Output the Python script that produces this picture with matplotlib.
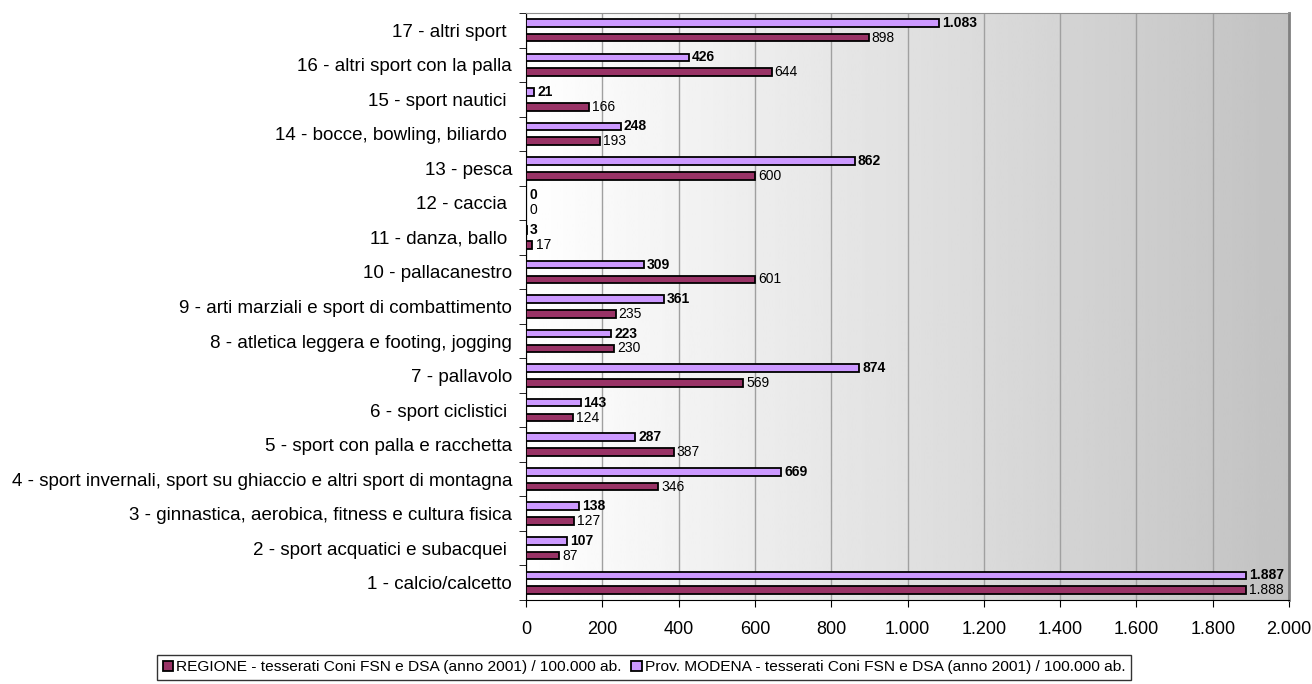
"""Tesserati Coni FSN e DSA per 100.000 ab. - Regione vs Prov. Modena."""
import matplotlib
matplotlib.use("Agg")
import matplotlib.pyplot as plt
import numpy as np
from matplotlib.ticker import FuncFormatter, FixedLocator

plt.rcParams["font.family"] = ["Liberation Sans", "DejaVu Sans"]

categories = [
    "1 - calcio/calcetto",
    "2 - sport acquatici e subacquei ",
    "3 - ginnastica, aerobica, fitness e cultura fisica",
    "4 - sport invernali, sport su ghiaccio e altri sport di montagna",
    "5 - sport con palla e racchetta",
    "6 - sport ciclistici ",
    "7 - pallavolo",
    "8 - atletica leggera e footing, jogging",
    "9 - arti marziali e sport di combattimento",
    "10 - pallacanestro",
    "11 - danza, ballo ",
    "12 - caccia ",
    "13 - pesca",
    "14 - bocce, bowling, biliardo ",
    "15 - sport nautici ",
    "16 - altri sport con la palla",
    "17 - altri sport ",
]
regione = [1888, 87, 127, 346, 387, 124, 569, 230, 235, 601, 17, 0, 600, 193, 166, 644, 898]
modena = [1887, 107, 138, 669, 287, 143, 874, 223, 361, 309, 3, 0, 862, 248, 21, 426, 1083]
x_ticks = [0, 200, 400, 600, 800, 1000, 1200, 1400, 1600, 1800, 2000]

label_reg = "REGIONE - tesserati Coni FSN e DSA (anno 2001) / 100.000 ab."
label_mo = "Prov. MODENA - tesserati Coni FSN e DSA (anno 2001) / 100.000 ab."

COL_REG = "#993366"
COL_MO = "#CC99FF"


def it_num(v, pos=None):
    return f"{int(v):,}".replace(",", ".")


fig = plt.figure(figsize=(13.12, 6.84), dpi=100)
ax = fig.add_axes([0.4009, 0.1228, 0.5816, 0.8582])

y = np.arange(len(categories))
off = 0.215
h = 0.22

# gradient background (white -> grey, left to right)
grad = np.linspace(1.0, 0.76, 256).reshape(1, -1)
ax.imshow(grad, cmap="gray", vmin=0, vmax=1, aspect="auto",
          extent=[0, 2000, -0.5, len(categories) - 0.5], zorder=0)

b_reg = ax.barh(y - off, regione, height=h, color=COL_REG, edgecolor="black",
                linewidth=1.3, label=label_reg, zorder=3)
b_mo = ax.barh(y + off, modena, height=h, color=COL_MO, edgecolor="black",
               linewidth=1.3, label=label_mo, zorder=3)

for yy, v in zip(y, regione):
    ax.text(v + 8, yy - off, it_num(v), va="center", ha="left", fontsize=10, zorder=4)
for yy, v in zip(y, modena):
    ax.text(v + 8, yy + off, it_num(v), va="center", ha="left", fontsize=10,
            fontweight="bold", zorder=4)

ax.set_xlim(0, 2000)
ax.set_ylim(-0.5, len(categories) - 0.5)
ax.set_xticks(x_ticks)
ax.xaxis.set_major_formatter(FuncFormatter(it_num))
ax.grid(axis="x", color="#a0a0a0", linewidth=1.0, zorder=1)
ax.set_axisbelow(True)

ax.set_yticks(y)
ax.set_yticklabels(categories, fontsize=13.5)
ax.tick_params(axis="y", which="major", length=0, pad=10)
ax.yaxis.set_minor_locator(FixedLocator(np.arange(-0.5, len(categories), 1.0)))
ax.tick_params(axis="y", which="minor", length=5, direction="out", color="black")
ax.tick_params(axis="x", length=5, direction="out", labelsize=13, pad=10)

ax.spines["top"].set_color("#909090")
ax.spines["right"].set_color("#808080")
ax.spines["right"].set_linewidth(2.0)
for side in ("left", "bottom"):
    ax.spines[side].set_color("black")

handles = [b_reg, b_mo]
leg = fig.legend(handles, [label_reg, label_mo], loc="lower center",
                 bbox_to_anchor=(0.491, 0.006), borderaxespad=0, ncol=2,
                 fontsize=11.15, frameon=True, fancybox=False, edgecolor="black",
                 handlelength=0.7, handleheight=0.7, handletextpad=0.2,
                 columnspacing=0.6, borderpad=0.35)
leg.get_frame().set_linewidth(1.0)

fig.savefig("out.png", dpi=100, facecolor="white")
